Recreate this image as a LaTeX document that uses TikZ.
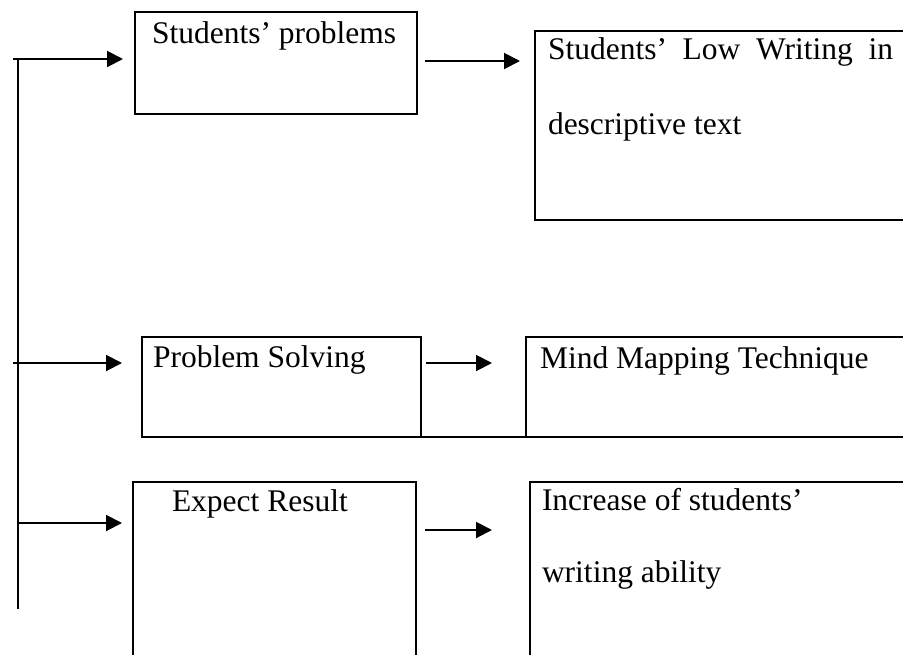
\documentclass[tikz,border=0pt]{standalone}
\usepackage{fontspec}
\setmainfont{Liberation Serif}
\usetikzlibrary{arrows.meta}
\tikzset{
  boxnode/.style={draw, line width=2.2pt, anchor=north west, inner sep=0pt, outer sep=0pt},
  txt/.style={anchor=base west, inner sep=0pt, outer sep=0pt, font=\fontsize{31.5}{38}\selectfont},
  arr/.style={line width=2pt, -{Triangle[length=16pt,width=16pt]}},
  spine/.style={line width=1.6pt}
}
\begin{document}
\begin{tikzpicture}[x=1pt,y=-1pt]
\useasboundingbox (0,0) rectangle (903,654);
\clip (0,0) rectangle (903,654);
\fill[white] (0,0) rectangle (903,654);
% boxes
\node[boxnode, minimum width=282pt, minimum height=102pt] (b1) at (135,12) {};
\node[boxnode, minimum width=380pt, minimum height=189pt] (b2) at (535,31) {};
\node[boxnode, minimum width=279pt, minimum height=100pt] (b3) at (142,337) {};
\node[boxnode, minimum width=390pt, minimum height=100pt] (b4) at (526,337) {};
\node[boxnode, minimum width=283pt, minimum height=190pt] (b5) at (133,482) {};
\node[boxnode, minimum width=390pt, minimum height=190pt] (b6) at (530,482) {};
\draw[line width=2.2pt] (b3.south east) -- (b4.south west);
% texts
\node[txt] (t1) at (152,43) {Students’ problems};
\node[txt] (t2a) at (548,59) {\hbox to 345pt{Students’\hfill Low\hfill Writing\hfill in}};
\node[txt] (t2b) at (548,134) {descriptive text};
\node[txt] (t3) at (153,367) {Problem Solving};
\node[txt] (t4) at (540,368) {Mind Mapping Technique};
\node[txt] (t5) at (172,511) {Expect Result};
\node[txt] (t6a) at (542,510) {Increase of students’};
\node[txt] (t6b) at (542,582) {writing ability};
% spine
\coordinate (s1) at (13,59);
\coordinate (s2) at (13,363);
\coordinate (s3) at (18,523);
\coordinate (stop) at (18,59);
\coordinate (sbot) at (18,609);
\draw[spine] (stop) -- (sbot);
\draw[arr, shorten >=12pt] (s1) -- (s1 -| b1.west);
\draw[arr, shorten >=20pt] (s2) -- (s2 -| b3.west);
\draw[arr, shorten >=11pt] (s3) -- (s3 -| b5.west);
% between arrows
\coordinate (m1) at (425,61);
\coordinate (m2) at (426,363);
\coordinate (m3) at (425,530);
\draw[arr, shorten >=15pt] (m1) -- (m1 -| b2.west);
\draw[arr, shorten >=34pt] (m2) -- (m2 -| b4.west);
\draw[arr, shorten >=38pt] (m3) -- (m3 -| b6.west);
\end{tikzpicture}
\end{document}
